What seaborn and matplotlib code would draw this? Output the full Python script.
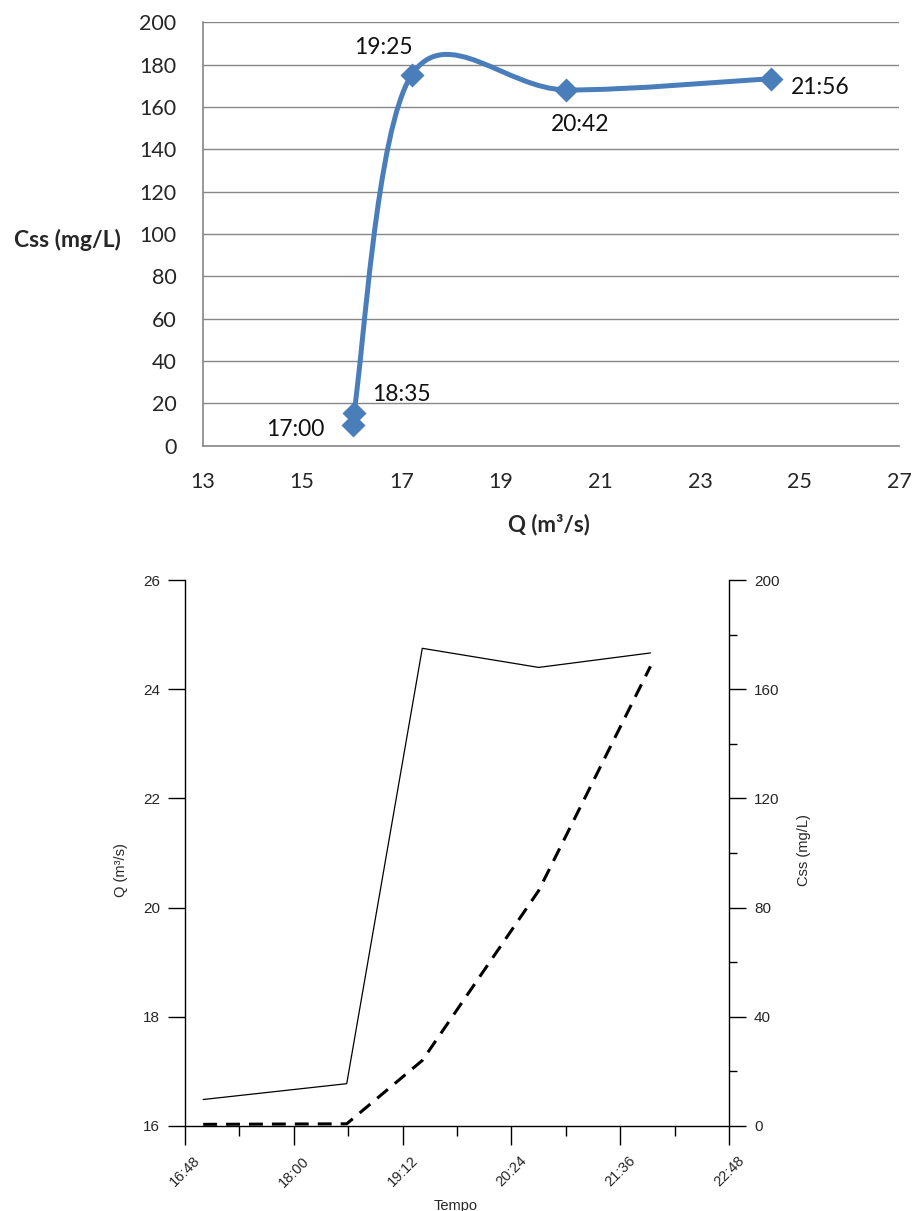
import numpy as np
import pandas as pd
import seaborn as sns
import matplotlib.pyplot as plt
import matplotlib.dates as mdates
from matplotlib.path import Path
from matplotlib.patches import PathPatch
from matplotlib.ticker import MultipleLocator

#%% DATA
hora = ['17:00', '18:35', '19:25', '20:42', '21:56']
vazao = [16.03, 16.04, 17.2, 20.31, 24.42]      # Q (m3/s)
css = [9.7, 15.5, 175.0, 168.0, 173.3]          # Css (mg/L)
q_ticks = [13, 15, 17, 19, 21, 23, 25, 27]
tempo_ticks = ['16:48', '18:00', '19:12', '20:24', '21:36', '22:48']
tempo_minor = ['17:24', '18:36', '19:48', '21:00', '22:12']

dia = '2000-01-01 '
df = pd.DataFrame({'hora': hora, 'Q': vazao, 'Css': css})
df['tempo'] = pd.to_datetime(dia + df['hora'])

AZUL = '#4a7ebb'
CINZA = '#868686'

sns.set_style('white')
plt.rcParams['lines.scale_dashes'] = False

fig = plt.figure(figsize=(9.16, 12.11), dpi=100)
ax1 = fig.add_axes([0.2213, 0.6320, 0.7601, 0.3497])
ax2 = fig.add_axes([0.2020, 0.0702, 0.5939, 0.4508])


#%% smoothed line like the spreadsheet one (bezier through the points)
def curva_suave(x, y, xr, yr):
    pts = np.column_stack([x, y]).astype(float)
    sc = np.array([xr, yr], dtype=float)
    n = len(pts)
    verts = [pts[0]]
    codes = [Path.MOVETO]
    for i in range(n - 1):
        p0 = pts[max(i - 1, 0)]
        p1 = pts[i]
        p2 = pts[i + 1]
        p3 = pts[min(i + 2, n - 1)]
        seg = np.linalg.norm((p2 - p1) / sc)
        d1 = (p2 - p0) / 6
        d2 = (p3 - p1) / 6
        ds = []
        for d in (d1, d2):
            nd = np.linalg.norm(d / sc)
            if nd > seg and nd > 0:
                d = d * seg / nd
            ds.append(d)
        verts += [p1 + ds[0], p2 - ds[1], p2]
        codes += [Path.CURVE4] * 3
    return Path(verts, codes)


#%% TOP: Css x Q
caminho = curva_suave(df['Q'], df['Css'], 14, 200)
ax1.add_patch(PathPatch(caminho, facecolor='none', edgecolor=AZUL, lw=3.6,
                        capstyle='round', joinstyle='round', zorder=3))
sns.scatterplot(data=df, x='Q', y='Css', ax=ax1, marker='D', s=150,
                color=AZUL, edgecolor=AZUL, linewidth=0, zorder=4)

offsets = {'17:00': (-42, -3), '18:35': (34, 13), '19:25': (-20, 20),
           '20:42': (10, -25), '21:56': (36, -6)}
for _, r in df.iterrows():
    ax1.annotate(r['hora'], (r['Q'], r['Css']), xytext=offsets[r['hora']],
                 textcoords='offset points', ha='center', va='center',
                 fontsize=16.5, family='Lato', color='#111111')

ax1.set_xlim(13, 27)
ax1.set_ylim(0, 200)
ax1.set_xticks(q_ticks)
ax1.yaxis.set_major_locator(MultipleLocator(20))
ax1.grid(axis='y', color=CINZA, lw=1)
ax1.set_axisbelow(True)
for s in ['top', 'right']:
    ax1.spines[s].set_visible(False)
for s in ['left', 'bottom']:
    ax1.spines[s].set_color(CINZA)
    ax1.spines[s].set_linewidth(1.2)
ax1.tick_params(axis='both', direction='out', length=7, width=1, color=CINZA,
                pad=12, labelsize=15.5)
for lab in ax1.get_xticklabels() + ax1.get_yticklabels():
    lab.set_family('Lato')
ax1.set_xlabel('Q (m³/s)', family='Lato', fontweight='bold', fontsize=16)
ax1.set_ylabel('Css (mg/L)', family='Lato', fontweight='bold', fontsize=16.5,
               rotation=0, ha='center', va='center')
ax1.xaxis.set_label_coords(0.497, -0.16)
ax1.yaxis.set_label_coords(-0.194, 0.485)

#%% BOTTOM: Q and Css over time
sns.lineplot(data=df, x='tempo', y='Q', ax=ax2, color='black', lw=2.2,
             dashes=False, zorder=3)
ax2.lines[0].set_linestyle((0, (10, 6.5)))
ax3 = ax2.twinx()
sns.lineplot(data=df, x='tempo', y='Css', ax=ax3, color='black', lw=0.9)

ax2.set_xlim(pd.Timestamp(dia + tempo_ticks[0]), pd.Timestamp(dia + tempo_ticks[-1]))
ax2.set_xticks(pd.to_datetime([dia + t for t in tempo_ticks]))
ax2.set_xticks(pd.to_datetime([dia + t for t in tempo_minor]), minor=True)
ax2.xaxis.set_major_formatter(mdates.DateFormatter('%H:%M'))
ax2.set_ylim(16, 26)
ax2.yaxis.set_major_locator(MultipleLocator(2))
ax3.set_ylim(0, 200)
ax3.yaxis.set_major_locator(MultipleLocator(40))
ax3.yaxis.set_minor_locator(MultipleLocator(20))

for s in ['top', 'right']:
    ax2.spines[s].set_visible(False)
for s in ['top', 'left', 'bottom']:
    ax3.spines[s].set_visible(False)
for sp in [ax2.spines['left'], ax2.spines['bottom'], ax3.spines['right']]:
    sp.set_color('black')
    sp.set_linewidth(1)

ax2.tick_params(axis='y', direction='out', length=12, width=1, color='black',
                pad=6, labelsize=11)
ax2.tick_params(axis='x', which='major', direction='out', length=14, width=1,
                pad=6, labelsize=10.5, labelrotation=45)
ax2.tick_params(axis='x', which='minor', direction='out', length=7, width=1)
ax2.tick_params(axis='x', which='both', bottom=True, color='black')
ax3.tick_params(axis='y', which='major', direction='out', length=12, width=1,
                pad=6, labelsize=11, color='black')
ax3.tick_params(axis='y', which='minor', direction='out', length=6, width=1,
                color='black', right=True)
for lab in ax2.get_xticklabels() + ax2.get_yticklabels() + ax3.get_yticklabels():
    lab.set_family('Liberation Sans')

ax2.set_xlabel('Tempo', family='Liberation Sans', fontsize=10.5)
ax2.set_ylabel('Q (m³/s)', family='Liberation Sans', fontsize=10.5)
ax3.set_ylabel('Css (mg/L)', family='Liberation Sans', fontsize=10.5)
ax2.xaxis.set_label_coords(0.498, -0.133)
ax2.yaxis.set_label_coords(-0.105, 0.469)
ax3.yaxis.set_label_coords(1.125, 0.505)

fig.savefig('out.png', dpi=100)
